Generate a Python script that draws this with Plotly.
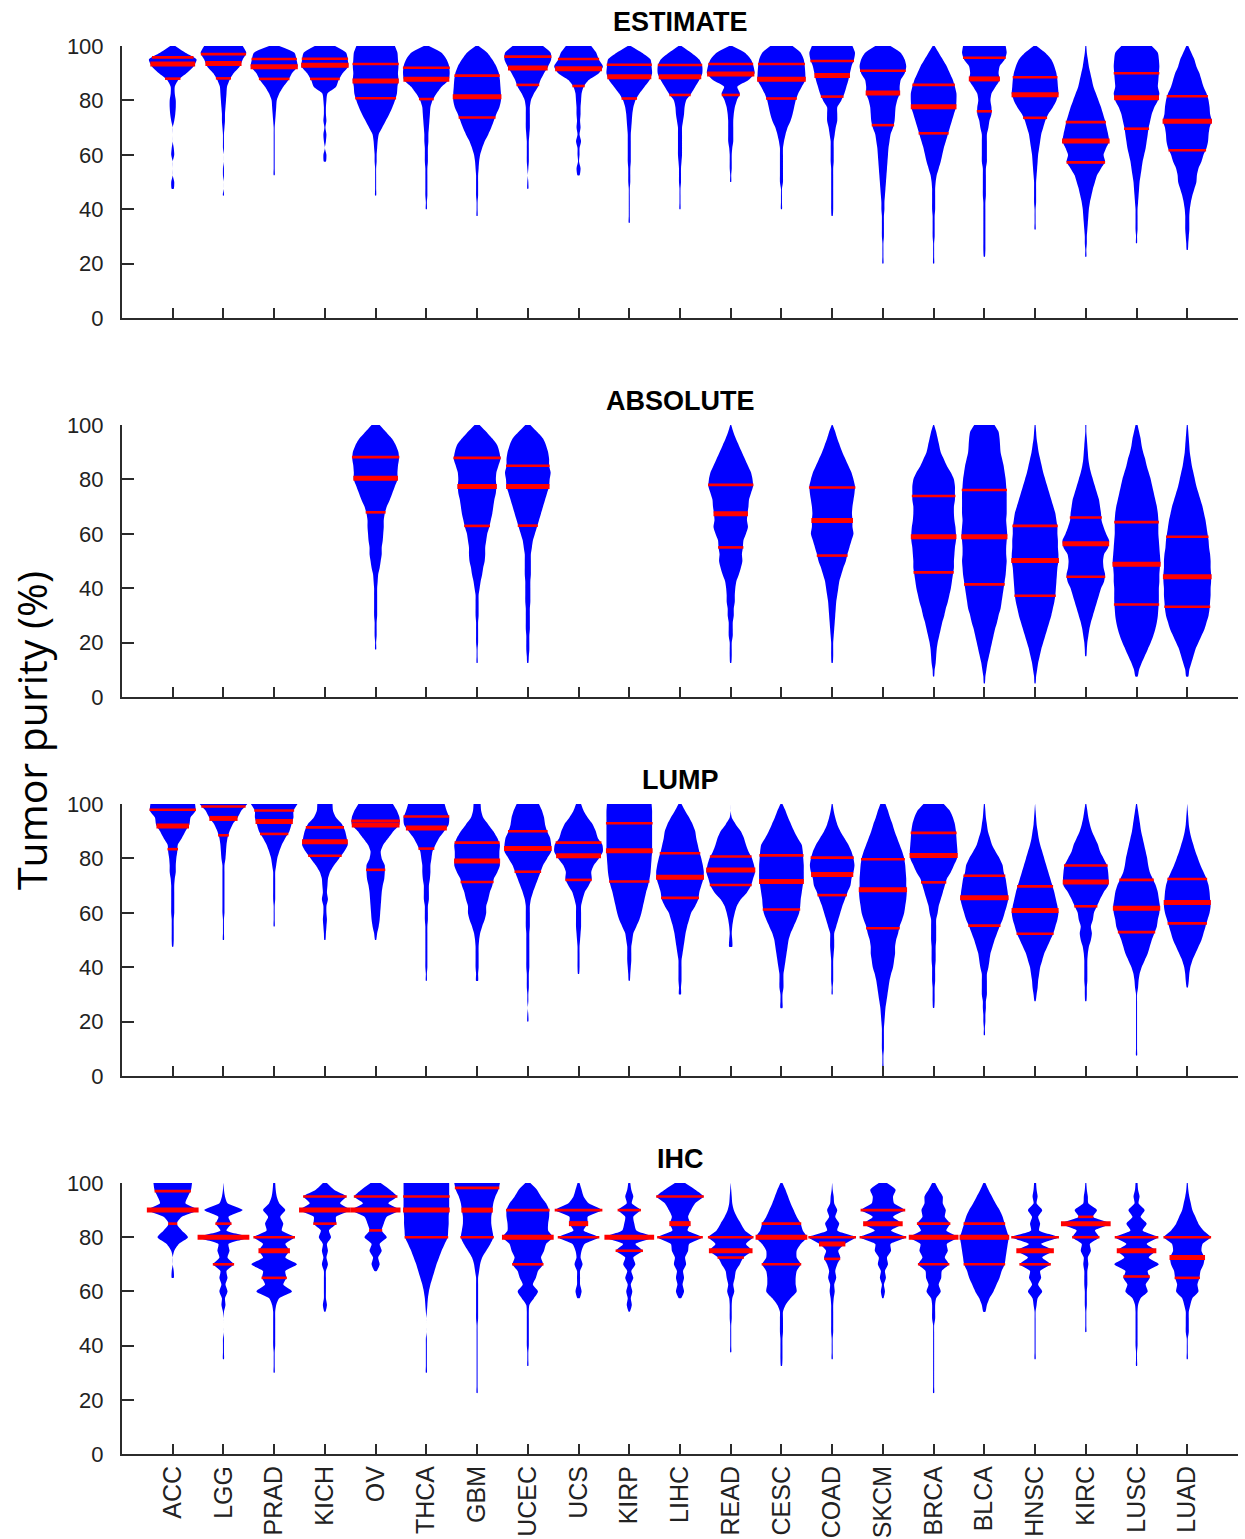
import plotly.graph_objects as go

# ---------------- data ----------------
CATEGORIES = ["ACC", "LGG", "PRAD", "KICH", "OV", "THCA", "GBM", "UCEC", "UCS", "KIRP",
              "LIHC", "READ", "CESC", "COAD", "SKCM", "BRCA", "BLCA", "HNSC", "KIRC", "LUSC", "LUAD"]
PANEL_TITLES = ["ESTIMATE", "ABSOLUTE", "LUMP", "IHC"]
Y_TICKS = [0, 20, 40, 60, 80, 100]
Y_TITLE = "Tumor purity (%)"

# purity levels at which violin half-widths were read (top -> bottom)
PURITY_LEVELS = [100, 97.5, 95, 92.5, 90, 87.5, 85, 82.5, 80, 77.5, 75, 72.5, 70, 67.5, 65,
                 62.5, 60, 57.5, 55, 52.5, 50, 47.5, 45, 42.5, 40, 37.5, 35, 32.5, 30, 27.5,
                 25, 22.5, 20, 17.5, 15, 12.5, 10, 7.5, 5, 2.5, 0]

# half-width of each violin (percent of category spacing) at PURITY_LEVELS, from 100 downward
ESTIMATE_WIDTH = [
    [5, 25, 47, 41, 27, 11, 4, 4, 6, 6, 5, 3, 0, 0, 0, 2, 3, 0, 0, 0, 3, 2],
    [38, 45, 38, 32, 20, 12, 7, 6, 5, 4, 3, 3, 2, 1, 1, 1, 0, 0, 1, 1, 0, 0, 1],
    [10, 40, 44, 46, 35, 28, 18, 10, 5, 4, 3, 2, 1, 1, 1, 1, 1, 1, 1, 1],
    [20, 42, 45, 46, 35, 27, 22, 5, 3, 2, 2, 3, 1, 3, 2, 0, 3, 2],
    [38, 43, 44, 45, 44, 45, 43, 42, 38, 33, 27, 20, 13, 6, 4, 3, 2, 2, 1, 1, 1, 1, 1],
    [5, 30, 40, 45, 46, 44, 30, 20, 12, 8, 7, 6, 5, 4, 4, 3, 3, 3, 2, 2, 2, 2, 2, 1, 1],
    [3, 20, 30, 38, 43, 45, 46, 47, 47, 44, 38, 33, 28, 22, 15, 10, 6, 4, 3, 2, 2, 2, 2, 1, 1, 1],
    [30, 45, 46, 40, 32, 25, 20, 12, 6, 4, 4, 4, 4, 3, 2, 2, 2, 2, 1, 0, 1, 1],
    [25, 35, 40, 48, 40, 20, 10, 6, 5, 4, 4, 3, 4, 2, 5, 2, 2, 1, 4, 2],
    [3, 25, 42, 44, 45, 40, 30, 20, 12, 8, 6, 5, 4, 3, 3, 3, 3, 3, 2, 2, 2, 1, 1, 1, 1, 1, 1],
    [3, 22, 38, 44, 44, 38, 30, 22, 12, 9, 8, 6, 4, 4, 4, 4, 4, 3, 2, 2, 2, 1, 1, 1, 1],
    [3, 28, 40, 45, 47, 35, 13, 18, 12, 8, 6, 5, 5, 5, 5, 3, 2, 2, 2, 1, 1],
    [22, 38, 44, 46, 47, 47, 40, 33, 28, 25, 22, 18, 12, 8, 5, 3, 3, 3, 3, 3, 3, 1, 1, 1, 1],
    [40, 45, 43, 38, 35, 32, 28, 24, 18, 10, 10, 10, 7, 5, 3, 3, 3, 3, 2, 2, 2, 2, 2, 2, 2, 1],
    [15, 35, 43, 46, 43, 35, 33, 33, 28, 25, 24, 23, 20, 15, 13, 11, 10, 9, 8, 7, 6, 5, 4, 3, 3,
     2, 2, 2, 2, 1, 1, 1, 1],
    [2, 10, 18, 26, 32, 38, 42, 45, 45, 44, 40, 36, 32, 28, 24, 20, 17, 14, 10, 6, 4, 3, 3, 3, 3,
     2, 2, 2, 2, 1, 1, 1, 1],
    [42, 44, 40, 30, 28, 30, 22, 14, 12, 14, 14, 10, 8, 5, 5, 5, 5, 5, 3, 3, 3, 3, 3, 2, 2, 2, 2,
     2, 2, 2, 2, 1],
    [3, 20, 32, 38, 42, 44, 45, 46, 42, 35, 26, 20, 16, 12, 10, 8, 6, 5, 4, 3, 2, 2, 2, 2, 1, 1, 1, 1],
    [1, 2, 4, 6, 9, 12, 15, 20, 25, 30, 34, 38, 41, 44, 46, 40, 35, 38, 30, 22, 18, 14, 11, 8, 6,
     5, 4, 3, 2, 2, 1, 1],
    [30, 42, 44, 45, 44, 43, 42, 45, 42, 35, 30, 27, 24, 22, 20, 18, 15, 12, 10, 8, 6, 5, 4, 3, 2,
     2, 2, 2, 1, 1],
    [2, 8, 14, 18, 24, 28, 32, 38, 42, 44, 45, 48, 44, 42, 41, 38, 32, 28, 22, 19, 18, 14, 10, 7, 5,
     4, 4, 4, 3, 2, 1],
]
ESTIMATE_Q3 = [95.8, 97, 95.2, 95.3, 93.4, 92, 89.1, 96.1, 95.2, 93.1, 93, 93.4, 93.4, 94.5, 90.9,
               85.7, 95.7, 88.5, 72, 90, 81.5]
ESTIMATE_MEDIAN = [93.4, 93.6, 92.4, 92.9, 87.1, 87.8, 81.3, 91.9, 91.6, 88.7, 88.7, 89.7, 87.8, 89.2,
                   82.7, 77.7, 87.9, 82.1, 65.1, 81, 72.3]
ESTIMATE_Q1 = [88, 88.1, 87.9, 87.9, 80.8, 80.5, 73.7, 85.7, 85.3, 80.7, 82, 82, 80.7, 81.4, 70.9,
               67.9, 76, 73.6, 57.2, 69.6, 61.7]

ABSOLUTE_WIDTH = [
    None, None, None, None,
    [8, 20, 32, 40, 45, 46, 44, 43, 43, 38, 33, 28, 22, 18, 16, 16, 15, 14, 12, 12, 10, 8, 5, 4, 3,
     3, 3, 3, 3, 2, 2, 2, 1, 1],
    None,
    [5, 18, 30, 40, 44, 46, 42, 38, 37, 38, 37, 34, 32, 30, 27, 24, 20, 18, 16, 16, 15, 12, 10, 7,
     5, 3, 3, 3, 3, 2, 2, 2, 2, 1, 1, 1],
    [5, 18, 30, 36, 40, 42, 42, 45, 43, 42, 38, 34, 30, 26, 22, 18, 14, 10, 8, 6, 6, 6, 6, 5, 5, 5,
     5, 4, 4, 4, 4, 3, 3, 3, 2, 1],
    None, None, None,
    [1, 5, 10, 16, 22, 28, 34, 40, 43, 44, 40, 36, 35, 33, 32, 34, 30, 25, 24, 22, 23, 20, 16, 11,
     9, 8, 8, 6, 6, 4, 4, 4, 2, 2, 2, 1],
    None,
    [1, 6, 10, 15, 20, 26, 32, 38, 42, 45, 44, 42, 40, 39, 40, 40, 42, 38, 34, 30, 27, 22, 18, 14,
     12, 10, 8, 7, 6, 5, 4, 3, 2, 2, 2, 1],
    None,
    [1, 5, 8, 11, 14, 20, 26, 34, 40, 42, 42, 42, 40, 40, 41, 43, 44, 44, 42, 41, 40, 40, 38, 36,
     34, 31, 28, 24, 21, 17, 14, 11, 8, 6, 5, 4, 2, 1],
    [20, 28, 30, 31, 32, 35, 38, 40, 42, 43, 44, 44, 44, 44, 43, 44, 45, 44, 43, 43, 44, 43, 42, 40,
     38, 36, 34, 32, 28, 25, 21, 18, 15, 12, 9, 6, 4, 2, 1],
    [1, 2, 3, 5, 7, 10, 13, 16, 20, 24, 28, 32, 36, 40, 42, 44, 44, 45, 45, 46, 46, 44, 43, 42, 41,
     40, 38, 35, 32, 28, 24, 20, 16, 12, 9, 6, 4, 2, 1],
    [1, 1, 2, 3, 4, 5, 7, 10, 14, 18, 22, 26, 28, 30, 31, 35, 40, 46, 44, 36, 34, 35, 38, 36, 30,
     26, 22, 18, 14, 10, 7, 5, 3, 2, 1],
    [2, 5, 8, 10, 13, 17, 20, 24, 28, 31, 34, 37, 40, 42, 43, 43, 43, 44, 45, 46, 47, 46, 45, 45,
     44, 44, 44, 43, 42, 40, 37, 33, 28, 22, 16, 10, 5, 2],
    [1, 2, 3, 4, 5, 7, 9, 12, 15, 18, 22, 26, 30, 33, 36, 38, 40, 42, 43, 45, 46, 46, 47, 47, 46,
     46, 45, 44, 42, 38, 34, 28, 22, 16, 12, 8, 4, 2],
]
ABSOLUTE_Q3 = [None, None, None, None, 88.2, None, 87.9, 85, None, None, None, 78, None, 77, None,
               73.9, 76.1, 62.9, 66, 64.3, 58.9]
ABSOLUTE_MEDIAN = [None, None, None, None, 80.4, None, 77.4, 77.4, None, None, None, 67.4, None, 64.9,
                   None, 58.9, 58.9, 50.2, 56.3, 48.8, 44.2]
ABSOLUTE_Q1 = [None, None, None, None, 67.9, None, 62.9, 63, None, None, None, 55, None, 52, None,
               45.8, 41.4, 37.2, 44.2, 34, 33.2]

LUMP_WIDTH = [
    [44, 45, 35, 33, 25, 18, 10, 9, 7, 6, 6, 4, 3, 3, 3, 3, 3, 2, 2, 2, 2, 1],
    [47, 35, 28, 18, 12, 8, 6, 5, 4, 2, 2, 2, 2, 2, 2, 2, 2, 1, 1, 1, 1],
    [46, 38, 38, 34, 30, 22, 15, 10, 6, 4, 2, 2, 2, 2, 2, 1, 1, 1, 1],
    [15, 16, 22, 34, 40, 43, 45, 38, 28, 18, 10, 6, 5, 4, 6, 3, 3, 4, 3, 2, 1],
    [34, 42, 47, 47, 35, 25, 15, 10, 12, 18, 18, 17, 14, 12, 11, 10, 9, 8, 6, 3, 1],
    [36, 40, 45, 44, 35, 25, 18, 12, 10, 8, 8, 7, 5, 5, 5, 3, 3, 3, 2, 2, 2, 2, 2, 2, 2, 1, 1],
    [7, 8, 12, 22, 32, 40, 45, 44, 44, 45, 40, 33, 30, 25, 22, 18, 18, 15, 10, 6, 4, 3, 3, 3, 3, 2, 2],
    [22, 28, 32, 34, 38, 44, 46, 46, 38, 30, 25, 20, 15, 10, 6, 4, 4, 4, 4, 3, 3, 3, 3, 3, 3, 2, 2,
     2, 1, 1, 0, 1, 1],
    [5, 10, 18, 28, 34, 38, 47, 48, 40, 30, 25, 26, 20, 12, 8, 5, 5, 5, 5, 4, 3, 2, 2, 2, 2, 1],
    [44, 45, 45, 45, 45, 45, 45, 45, 44, 43, 42, 40, 37, 33, 30, 27, 24, 20, 14, 8, 6, 4, 4, 4, 3, 2, 1],
    [3, 10, 18, 25, 30, 32, 35, 38, 42, 45, 47, 46, 42, 38, 36, 30, 22, 18, 14, 11, 9, 7, 5, 3, 3,
     3, 3, 2, 2],
    [0, 0, 2, 10, 20, 26, 30, 35, 42, 46, 48, 44, 40, 32, 20, 12, 8, 5, 3, 2, 3, 3],
    [2, 8, 13, 19, 25, 32, 40, 42, 43, 44, 44, 44, 42, 40, 38, 37, 35, 30, 24, 18, 14, 12, 10, 8, 6,
     4, 4, 4, 2, 2, 2],
    [1, 3, 6, 10, 16, 24, 32, 38, 42, 44, 42, 38, 36, 30, 25, 20, 16, 12, 8, 4, 4, 4, 3, 2, 2, 2, 2, 1, 1],
    [5, 10, 14, 19, 23, 28, 33, 38, 42, 44, 45, 46, 46, 47, 46, 44, 42, 38, 33, 30, 26, 24, 24, 22,
     20, 16, 13, 11, 9, 7, 5, 4, 3, 2, 2, 2, 2, 1, 1, 1],
    [20, 32, 38, 42, 44, 45, 46, 47, 46, 40, 34, 26, 22, 18, 14, 10, 8, 5, 5, 5, 5, 4, 4, 4, 3, 3,
     3, 2, 2, 2, 1],
    [1, 2, 3, 5, 7, 11, 15, 22, 30, 36, 38, 42, 44, 46, 47, 44, 40, 36, 30, 25, 20, 16, 12, 10, 8,
     5, 5, 5, 5, 3, 3, 2, 2, 1, 1],
    [0, 1, 2, 3, 5, 7, 10, 14, 18, 22, 26, 30, 34, 38, 41, 44, 46, 44, 40, 36, 30, 24, 18, 14, 10,
     8, 6, 5, 3, 1],
    [1, 3, 5, 8, 12, 18, 24, 28, 35, 42, 44, 45, 44, 35, 28, 22, 16, 14, 10, 12, 10, 6, 4, 3, 3, 3,
     3, 2, 2, 1],
    [1, 3, 5, 7, 9, 12, 15, 18, 21, 23, 26, 32, 38, 42, 44, 46, 45, 42, 40, 35, 30, 26, 22, 16, 10,
     6, 4, 3, 1, 1, 1, 1, 1, 1, 1, 1, 1, 1],
    [0, 1, 2, 3, 5, 8, 12, 16, 21, 26, 32, 38, 42, 44, 45, 46, 44, 40, 36, 32, 28, 22, 16, 10, 6, 4,
     3, 1],
]
LUMP_Q3 = [97.9, 99.1, 97.6, 91.4, 93.8, 95.4, 85.8, 90, 85.8, 92.9, 81.9, 80.7, 81.1, 80.3, 79.7,
           89.4, 73.6, 69.7, 77.4, 72.1, 72.4]
LUMP_MEDIAN = [91.9, 94.7, 93.6, 86.1, 92.3, 91.2, 79, 83.6, 81, 82.8, 73.1, 75.7, 71.5, 74.1, 68.5,
               81.1, 65.5, 60.8, 71.3, 61.7, 63.8]
LUMP_Q1 = [83.4, 88.5, 89, 81, 75.8, 83.6, 71.3, 75.1, 72.1, 71.5, 65.5, 70.2, 61.2, 66.5, 54.3,
           71.2, 55.3, 52.3, 62.4, 52.9, 56.1]

IHC_WIDTH = [
    [38, 36, 30, 25, 50, 18, 8, 18, 30, 12, 3, 0, 0, 2, 2],
    [0, 1, 3, 8, 38, 10, 15, 6, 50, 10, 12, 8, 20, 6, 8, 4, 8, 3, 4, 1, 0, 0, 0, 1, 1, 1, 1],
    [2, 3, 5, 10, 22, 12, 18, 15, 40, 22, 30, 22, 45, 22, 24, 18, 35, 10, 4, 2, 2, 2, 2, 2, 2, 1,
     1, 1, 1],
    [4, 18, 42, 30, 50, 22, 22, 8, 12, 4, 6, 3, 6, 2, 2, 2, 2, 2, 4, 1],
    [10, 28, 42, 25, 48, 22, 16, 12, 22, 8, 12, 5, 8, 2],
    [45, 45, 45, 45, 45, 44, 44, 43, 42, 36, 30, 25, 20, 16, 12, 8, 5, 3, 2, 1, 0, 0, 0, 1, 1, 1,
     1, 1, 1],
    [45, 42, 36, 32, 30, 28, 28, 30, 32, 26, 18, 10, 6, 4, 2, 2, 2, 2, 2, 2, 2, 1, 1, 1, 1, 1, 1,
     1, 1, 1, 1, 1],
    [5, 18, 26, 36, 42, 42, 40, 40, 50, 36, 32, 26, 30, 20, 16, 10, 20, 12, 3, 2, 2, 2, 2, 2, 2, 1, 1, 1],
    [2, 6, 10, 20, 46, 18, 18, 10, 40, 12, 6, 4, 8, 3, 3, 3, 6, 2],
    [2, 4, 8, 5, 22, 8, 10, 14, 48, 12, 26, 8, 12, 4, 8, 3, 6, 3, 5, 1],
    [10, 30, 46, 30, 22, 16, 20, 15, 44, 18, 16, 10, 12, 6, 8, 5, 8, 2],
    [0, 1, 2, 3, 6, 12, 20, 28, 44, 30, 42, 25, 18, 10, 8, 5, 7, 3, 2, 2, 2, 1, 1, 1, 1, 1],
    [2, 8, 13, 18, 24, 30, 38, 42, 50, 38, 30, 30, 38, 30, 28, 28, 30, 18, 8, 3, 3, 3, 3, 2, 2, 2, 2, 1],
    [0, 1, 3, 4, 10, 6, 14, 10, 46, 25, 12, 16, 10, 6, 8, 4, 5, 3, 2, 2, 2, 2, 2, 1, 1, 1, 1],
    [8, 25, 20, 22, 43, 20, 38, 16, 45, 15, 16, 8, 10, 4, 6, 2, 4, 1],
    [3, 10, 18, 18, 24, 22, 32, 25, 48, 26, 28, 22, 30, 16, 15, 10, 14, 5, 3, 3, 3, 1, 1, 1, 1, 1,
     1, 1, 1, 1, 1, 1],
    [2, 8, 15, 22, 30, 36, 40, 44, 48, 46, 44, 42, 40, 34, 30, 24, 18, 10, 5, 2],
    [2, 3, 5, 3, 14, 6, 10, 8, 46, 12, 36, 14, 30, 10, 12, 6, 14, 5, 3, 1, 1, 1, 1, 1, 1, 1, 1],
    [1, 2, 4, 5, 22, 14, 48, 18, 26, 8, 10, 4, 5, 3, 3, 3, 2, 2, 2, 1, 1, 1, 1],
    [2, 3, 6, 4, 16, 8, 20, 12, 42, 20, 38, 24, 44, 22, 26, 18, 22, 8, 3, 2, 2, 2, 2, 2, 2, 1, 1, 1],
    [1, 2, 4, 7, 10, 16, 22, 32, 46, 30, 28, 34, 32, 26, 24, 20, 22, 10, 6, 3, 3, 3, 3, 1, 1, 1, 1],
]
IHC_Q3 = [97, 85, 80, 95, 95, 95, 98.2, 90, 90, 90, 95, 80, 85, 80, 90, 85, 85, 80, 87.5, 80, 80]
IHC_MEDIAN = [90, 80, 75, 90, 90, 90, 90, 80, 85, 80, 85, 75, 80, 77.5, 85, 80, 80, 75, 85, 75, 72.5]
IHC_Q1 = [85, 70, 65, 85, 82.5, 80, 80, 70, 80, 75, 80, 72.5, 70, 72, 80, 70, 70, 70, 80, 65.5, 65]

PANELS = [
    (ESTIMATE_WIDTH, ESTIMATE_Q1, ESTIMATE_MEDIAN, ESTIMATE_Q3),
    (ABSOLUTE_WIDTH, ABSOLUTE_Q1, ABSOLUTE_MEDIAN, ABSOLUTE_Q3),
    (LUMP_WIDTH, LUMP_Q1, LUMP_MEDIAN, LUMP_Q3),
    (IHC_WIDTH, IHC_Q1, IHC_MEDIAN, IHC_Q3),
]

# ---------------- style / layout ----------------
W, H = 1245, 1539
BLUE = "#0000ff"
RED = "#ff0000"
AXIS = "#2b2b2b"
X_DOMAIN = [122 / W, 1238 / W]
PANEL_PIX = [(46, 318), (425, 697), (804, 1076), (1183, 1454)]  # (top, bottom) in px
LEVEL_STEP = 2.5


def width_at(widths, y):
    idx = (100 - y) / LEVEL_STEP
    i = int(idx)
    f = idx - i
    w0 = widths[i] if i < len(widths) else 0
    w1 = widths[i + 1] if i + 1 < len(widths) else 0
    return w0 + (w1 - w0) * f


fig = go.Figure()
for p, (widths_all, q1s, meds, q3s) in enumerate(PANELS):
    xa = "x" if p == 0 else f"x{p + 1}"
    ya = "y" if p == 0 else f"y{p + 1}"
    med_x, med_y, q_x, q_y = [], [], [], []
    for c, widths in enumerate(widths_all):
        if widths is None:
            continue
        levels = PURITY_LEVELS[:len(widths)]
        half = [w / 100 for w in widths]
        xs = [c + h for h in half] + [c - h for h in reversed(half)]
        ys = list(levels) + list(reversed(levels))
        fig.add_trace(go.Scatter(x=xs, y=ys, mode="lines", fill="toself", fillcolor=BLUE,
                                 line=dict(width=0, color=BLUE, shape="spline", smoothing=0.6),
                                 xaxis=xa, yaxis=ya, hoverinfo="skip", showlegend=False))
        for val, is_med in ((q1s[c], False), (meds[c], True), (q3s[c], False)):
            hw = max(width_at(widths, val) + 1.0, 4.0) / 100
            if is_med:
                med_x += [c - hw, c + hw, None]
                med_y += [val, val, None]
            else:
                q_x += [c - hw, c + hw, None]
                q_y += [val, val, None]
    fig.add_trace(go.Scatter(x=q_x, y=q_y, mode="lines", line=dict(color=RED, width=2.6),
                             xaxis=xa, yaxis=ya, hoverinfo="skip", showlegend=False))
    fig.add_trace(go.Scatter(x=med_x, y=med_y, mode="lines", line=dict(color=RED, width=5),
                             xaxis=xa, yaxis=ya, hoverinfo="skip", showlegend=False))

layout = dict(width=W, height=H, margin=dict(l=0, r=0, t=0, b=0),
              plot_bgcolor="white", paper_bgcolor="white", showlegend=False,
              font=dict(family="Liberation Sans, Arial, sans-serif", color="#222222"))
annotations = []
for p, (top, bot) in enumerate(PANEL_PIX):
    sx = "" if p == 0 else str(p + 1)
    ydom = [1 - bot / H, 1 - top / H]
    layout["xaxis" + sx] = dict(
        domain=X_DOMAIN, range=[-1, 21], anchor="y" + sx, tickmode="array",
        tickvals=list(range(len(CATEGORIES))), ticktext=CATEGORIES,
        showticklabels=(p == 3), tickangle=-90, tickfont=dict(size=25, color="#222222"),
        ticks="inside", ticklen=10, tickwidth=2, tickcolor=AXIS,
        showline=True, linewidth=2, linecolor=AXIS, showgrid=False, zeroline=False,
        fixedrange=True, automargin=False, ticklabelstandoff=0)
    layout["yaxis" + sx] = dict(
        domain=ydom, range=[0, 100], anchor="x" + sx, tickmode="array", tickvals=Y_TICKS,
        tickfont=dict(size=22, color="#222222"),
        ticks="inside", ticklen=12, tickwidth=2, tickcolor=AXIS,
        showline=True, linewidth=2, linecolor=AXIS, showgrid=False, zeroline=False,
        fixedrange=True, automargin=False, ticklabelstandoff=12)
    annotations.append(dict(text="<b>" + PANEL_TITLES[p] + "</b>", xref="paper", yref="paper",
                            x=(X_DOMAIN[0] + X_DOMAIN[1]) / 2, y=1 - (top - 24) / H,
                            xanchor="center", yanchor="middle", showarrow=False,
                            font=dict(size=27, color="black", family="Liberation Sans, Arial")))
annotations.append(dict(text=Y_TITLE, xref="paper", yref="paper", x=31 / W, y=1 - 731 / H,
                        xanchor="center", yanchor="middle", textangle=-90, showarrow=False,
                        font=dict(size=41, color="black", family="Open Sans, Noto Sans")))
layout["annotations"] = annotations
fig.update_layout(**layout)

fig.write_html("out.html")
